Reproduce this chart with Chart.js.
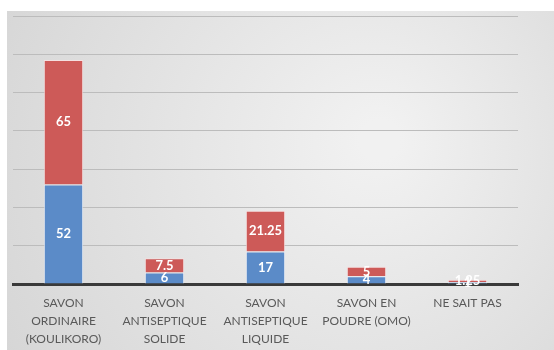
<!DOCTYPE html>
<html>
<head>
<meta charset="utf-8">
<script src="https://cdn.jsdelivr.net/npm/chart.js@4"></script>
<style>
  html, body { margin: 0; padding: 0; background: #fff; }
  #wrap { width: 554px; height: 350px; }
</style>
</head>
<body>
<div id="wrap"><canvas id="chart" width="554" height="350"></canvas></div>
<script>
// data
const categories = [
    ['SAVON', 'ORDINAIRE', '(KOULIKORO)'],
    ['SAVON', 'ANTISEPTIQUE', 'SOLIDE'],
    ['SAVON', 'ANTISEPTIQUE', 'LIQUIDE'],
    ['SAVON EN', 'POUDRE (OMO)'],
    ['NE SAIT PAS']
];
const blueValues = [52, 6, 17, 4, 1];
const redValues = [65, 7.5, 21.25, 5, 1.25];
const yMax = 140;
const yStep = 20;

// grey panel behind the chart
const panelBg = {
    id: 'panelBg',
    beforeDraw(c) {
        const ctx = c.ctx;
        const g = ctx.createRadialGradient(380, 140, 20, 330, 170, 420);
        g.addColorStop(0, '#f1f1f1');
        g.addColorStop(1, '#d3d3d3');
        ctx.save();
        ctx.fillStyle = g;
        ctx.fillRect(7, 11, c.width - 7, c.height - 11);
        ctx.restore();
    }
};

// white value labels centred in each segment
const segLabels = {
    id: 'segLabels',
    afterDatasetsDraw(c) {
        const ctx = c.ctx;
        ctx.save();
        ctx.font = 'bold 13px Lato, "Open Sans", sans-serif';
        ctx.fillStyle = '#ffffff';
        ctx.textAlign = 'center';
        ctx.textBaseline = 'middle';
        c.data.datasets.forEach((ds, i) => {
            c.getDatasetMeta(i).data.forEach((bar, j) => {
                const mid = (bar.y + bar.base) / 2;
                ctx.fillText(String(ds.data[j]), bar.x, mid);
            });
        });
        ctx.restore();
    }
};

const chart = document.querySelector('#chart').getContext('2d');

new Chart(chart, {
    type: 'bar',
    data: {
        labels: categories,
        datasets: [
            {
                label: 'Série 1',
                data: blueValues,
                backgroundColor: '#5b8bc8',
                borderColor: 'rgba(235,240,250,0.8)',
                borderWidth: 1,
                categoryPercentage: 1,
                barPercentage: 0.39
            },
            {
                label: 'Série 2',
                data: redValues,
                backgroundColor: '#cd5a58',
                borderColor: 'rgba(250,225,225,0.8)',
                borderWidth: 1,
                categoryPercentage: 1,
                barPercentage: 0.39
            }
        ]
    },
    options: {
        responsive: false,
        animation: false,
        layout: { padding: { left: 13, right: 36, top: 16, bottom: 0 } },
        plugins: {
            legend: { display: false },
            tooltip: { enabled: false }
        },
        scales: {
            x: {
                stacked: true,
                grid: { display: false },
                border: { display: true, color: '#3a3a3a', width: 3 },
                ticks: {
                    color: '#595959',
                    font: { family: 'Lato, "Open Sans", sans-serif', size: 12, lineHeight: 1.5 },
                    maxRotation: 0,
                    autoSkip: false,
                    padding: 2
                }
            },
            y: {
                stacked: true,
                min: 0,
                max: yMax,
                ticks: { display: false, stepSize: yStep },
                border: { display: false },
                grid: { color: '#bcbcbc', lineWidth: 1, drawTicks: false }
            }
        }
    },
    plugins: [panelBg, segLabels]
});
</script>
</body>
</html>
